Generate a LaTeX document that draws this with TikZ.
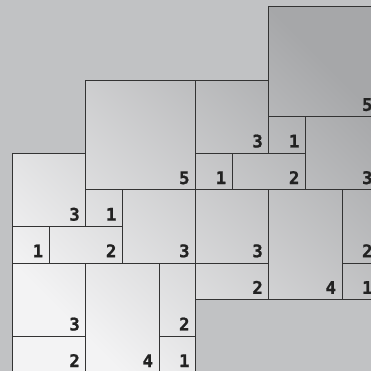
\documentclass[tikz,border=0pt]{standalone}
\usepackage{fontspec}
\newfontfamily\labfont{DejaVu Sans Mono}[BoldFeatures={FakeBold=1.2}]
\definecolor{bgcol}{HTML}{C1C2C4}
\definecolor{linecol}{HTML}{333333}
\definecolor{lightc}{HTML}{F3F3F4}
\definecolor{darkc}{HTML}{A6A7A9}
\definecolor{labcol}{HTML}{222222}
\tikzset{
  tile/.style={draw=linecol, line width=0.9pt},
  tilelabel/.style={anchor=base east, inner sep=0pt, text=labcol,
    font=\labfont\bfseries\fontsize{13.5}{13.5}\selectfont}
}
\newcommand{\tilelist}{%
  2/2/5/5/5, 0/4/2/6/3, 2/5/3/6/1, 3/5/5/7/3, 0/6/1/7/1, 1/6/3/7/2,
  0/7/2/9/3, 0/9/2/10/2, 2/7/4/10/4, 4/7/5/9/2, 4/9/5/10/1,
  7/0/10/3/5, 5/2/7/4/3, 7/3/8/4/1, 8/3/10/5/3, 5/4/6/5/1, 6/4/8/5/2,
  5/5/7/7/3, 5/7/7/8/2, 7/5/9/8/4, 9/5/10/7/2, 9/7/10/8/1}
\begin{document}
\begin{tikzpicture}[x=1cm,y=-1cm]
\useasboundingbox (-0.347,-0.1885) rectangle (9.790,9.9485);
\fill[bgcol] (-0.347,-0.1885) rectangle (9.790,9.9485);
\begin{scope}
\clip (-0.347,-0.1885) rectangle (9.790,9.9485);
\shade[top color=darkc, bottom color=lightc, shading angle=-45]
  (2,2) rectangle (5,5) (0,4) rectangle (5,10) (5,2) rectangle (7,8)
  (7,0) rectangle (10,8);
\foreach \a/\b/\c/\d/\n [count=\i] in \tilelist {
  \draw[tile] (\a,\b) rectangle (\c,\d);
  \node[tilelabel] (lab\i) at (\c-0.16,\d-0.16) {\n};
}
\end{scope}
\end{tikzpicture}
\end{document}
